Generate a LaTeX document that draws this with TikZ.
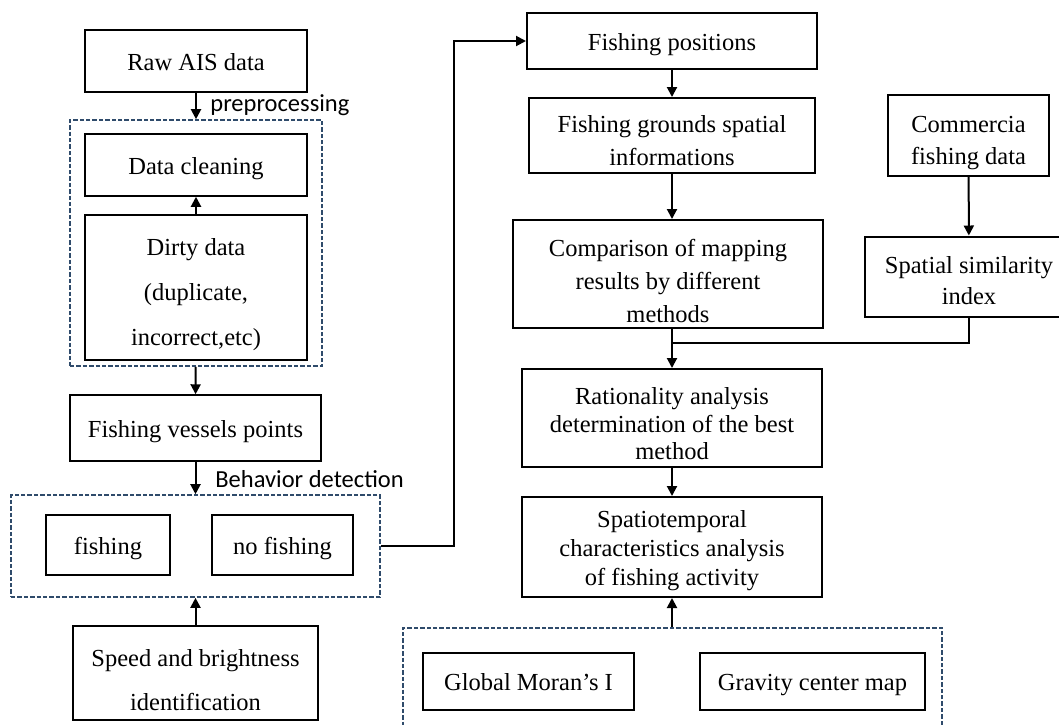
\documentclass[tikz,border=0pt]{standalone}
\usepackage{fontspec}
\setmainfont{Liberation Serif}
\newfontfamily\labelfont{Carlito}
\usetikzlibrary{arrows.meta}
\definecolor{dashblue}{RGB}{47,75,107}
\newcommand{\topgap}[1]{\rule{0pt}{#1}}

\begin{document}
\begin{tikzpicture}[x=0.5pt,y=-0.5pt,>={Triangle[length=5pt,width=5pt]}]
\tikzstyle{box}=[
	draw,
	line width=1pt,
	align=center,
	inner sep=0pt,
	font=\fontsize{12.25}{14}\selectfont ]
\tikzstyle{oneline}=[text height=9pt, text depth=0pt]
\tikzstyle{group}=[draw=dashblue, line width=0.8pt, dash pattern=on 2.2pt off 1pt, inner sep=0pt]
\tikzstyle{tag}=[font=\labelfont\fontsize{12.25}{14}\selectfont, inner sep=0pt, anchor=base west]
\tikzstyle{flow}=[line width=1pt, ->]
\useasboundingbox (0,0) rectangle (1059,724);
\clip (0,0) rectangle (1059,724);

% left column
\node[box, oneline, minimum width=110.75pt, minimum height=31pt] (raw) at (196,61) {Raw AIS data};
\node[group, minimum width=126pt, minimum height=123pt] (cleangroup) at (196,243) {};
\node[box, oneline, minimum width=110.75pt, minimum height=30.75pt] (clean) at (196,165) {Data cleaning};
\node[box, minimum width=110.75pt, minimum height=72.5pt,
	font=\fontsize{12.25}{22.5}\selectfont] (dirty) at (196,287.5) {\topgap{15.4pt}Dirty data\\(duplicate,\\incorrect,etc)};
\node[box, oneline, minimum width=125.5pt, minimum height=32.75pt] (vessels) at (195.5,428) {Fishing vessels points};
\node[group, minimum width=184.5pt, minimum height=51pt] (behgroup) at (195.5,546) {};
\node[box, oneline, minimum width=62pt, minimum height=30.25pt] (fishing) at (108,545) {fishing};
\node[box, oneline, minimum width=70.5pt, minimum height=30.25pt] (nofishing) at (282.5,545) {no fishing};
\node[box, minimum width=122.5pt, minimum height=47pt,
	font=\fontsize{12.25}{22}\selectfont] (speed) at (195.5,673) {\topgap{15.4pt}Speed and brightness\\identification};
\node[tag] (pretag) at (210,111.6) {preprocessing};
\node[tag] (behtag) at (215,487) {Behavior detection};

% right column
\node[box, oneline, minimum width=145pt, minimum height=28pt] (positions) at (672,41) {Fishing positions};
\node[box, minimum width=143pt, minimum height=37.5pt,
	font=\fontsize{12.25}{16.5}\selectfont] (grounds) at (672,135.5) {\topgap{13.4pt}Fishing grounds spatial\\informations};
\node[box, minimum width=155pt, minimum height=54pt,
	font=\fontsize{12.25}{16.5}\selectfont] (compare) at (668,274) {\topgap{15.4pt}Comparison of mapping\\results by different\\methods};
\node[box, minimum width=80.5pt, minimum height=40.5pt,
	font=\fontsize{12.25}{16}\selectfont] (commercia) at (968.5,135.5) {\topgap{15.4pt}Commercia\\fishing data};
\node[box, minimum width=104pt, minimum height=40pt,
	font=\fontsize{12.25}{15.5}\selectfont] (similarity) at (969,276.5) {\topgap{12.4pt}Spatial similarity\\index};
\node[box, minimum width=150pt, minimum height=49pt,
	font=\fontsize{12.25}{13.75}\selectfont] (rational) at (672,418) {\topgap{14.4pt}Rationality analysis\\determination of the best\\method};
\node[box, minimum width=150pt, minimum height=50pt,
	font=\fontsize{12.25}{14.5}\selectfont] (spatiotemp) at (672,547) {\topgap{12.4pt}Spatiotemporal\\characteristics analysis\\of fishing activity};
\node[group, minimum width=269.5pt, minimum height=51pt] (statgroup) at (672.5,679) {};
\node[box, oneline, minimum width=105.5pt, minimum height=28.5pt] (moran) at (528.5,681.5) {Global Moran's I};
\node[box, oneline, minimum width=112.5pt, minimum height=28.5pt] (gravity) at (812.5,681.5) {Gravity center map};

% connectors
\coordinate (bend) at (454,546);
\coordinate (merge) at (672,343);
\draw[flow] (raw) -- (cleangroup);
\draw[flow] (dirty) -- (clean);
\draw[flow] (cleangroup) -- (vessels);
\draw[flow] (vessels) -- (behgroup);
\draw[flow] (speed) -- (behgroup);
\draw[flow] (behgroup.east) -- (bend) |- (positions.west);
\draw[flow] (positions) -- (grounds);
\draw[flow] (grounds) -- (grounds |- compare.north);
\draw[flow] (compare.south -| rational) -- (rational);
\draw[line width=1pt] (similarity.south) |- (merge);
\draw[flow] (commercia) -- (similarity);
\draw[flow] (rational) -- (spatiotemp);
\draw[flow] (statgroup.north -| spatiotemp) -- (spatiotemp);
\end{tikzpicture}
\end{document}
